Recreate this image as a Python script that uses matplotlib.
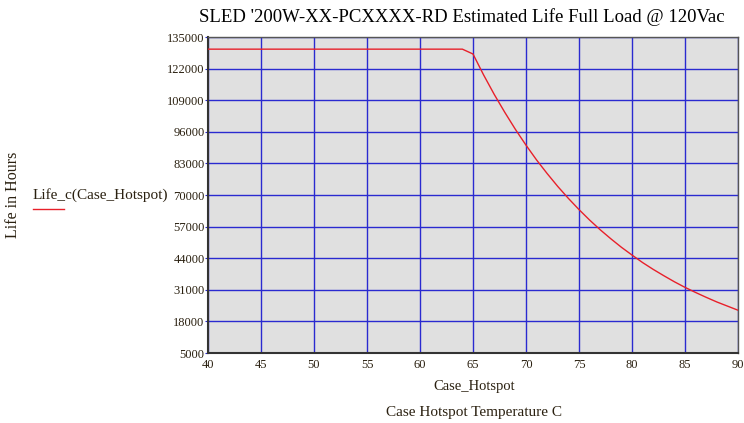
import matplotlib
matplotlib.use("Agg")
import matplotlib.pyplot as plt
from matplotlib.lines import Line2D

plt.rcParams['font.family'] = ['Liberation Serif', 'DejaVu Serif']

temps = list(range(40, 91))
life = [130000] * 25 + [
    128000, 119400, 111400, 104000, 97000, 90500, 84400, 78800, 73500, 68600,
    64000, 59700, 55700, 52000, 48500, 45300, 42200, 39400, 36800, 34300,
    32000, 29900, 27900, 26000, 24300, 22600]
x_ticks = [40, 45, 50, 55, 60, 65, 70, 75, 80, 85, 90]
y_ticks = [5000, 18000, 31000, 44000, 57000, 70000, 83000, 96000, 109000, 122000, 135000]

title = "SLED '200W-XX-PCXXXX-RD Estimated Life Full Load @ 120Vac"
txt = '#2a2010'

fig = plt.figure(figsize=(7.44, 4.23), dpi=100)
ax = fig.add_axes([208/744, 1-353/423, (738-208)/744, (353-37)/423])
ax.set_facecolor('#e0e0e0')
ax.plot(temps, life, color='#e8202a', lw=1.0, zorder=3)
ax.set_xlim(40, 90)
ax.set_ylim(5000, 135000)
ax.set_xticks(x_ticks)
ax.set_yticks(y_ticks)
ax.set_xticklabels([str(v) for v in x_ticks], fontsize=9, color=txt)
ax.set_yticklabels([str(v) for v in y_ticks], fontsize=9, color=txt)
ax.grid(True, color='#2a2ad0', lw=1.0, zorder=1)
ax.set_axisbelow(True)
ax.tick_params(axis='x', length=0, pad=4)
ax.tick_params(axis='y', length=2, color='#2a2ad0', pad=0.5)
for s in ['left', 'bottom']:
    ax.spines[s].set_color('#333333')
    ax.spines[s].set_linewidth(1.5)
for s in ['top', 'right']:
    ax.spines[s].set_color('#555555')
    ax.spines[s].set_linewidth(1.0)

fig.text(462/744, 1-17/423, title, ha='center', va='center', fontsize=13.5, color='black')
fig.text(474/744, 1-386/423, "Case_Hotspot", ha='center', va='center', fontsize=10.5, color=txt)
fig.text(474/744, 1-412/423, "Case Hotspot Temperature C", ha='center', va='center', fontsize=11, color=txt)
fig.text(13/744, 1-195/423, "Life in Hours", ha='center', va='center', rotation=90, fontsize=11.5, color=txt)
fig.text(33/744, 1-195/423, "Life_c(Case_Hotspot)", ha='left', va='center', fontsize=11, color=txt)
fig.add_artist(Line2D([33/744, 64/744], [1-209/423, 1-209/423], color='#e8202a', lw=1.0,
                      transform=fig.transFigure))

fig.savefig("out.png", dpi=100)
